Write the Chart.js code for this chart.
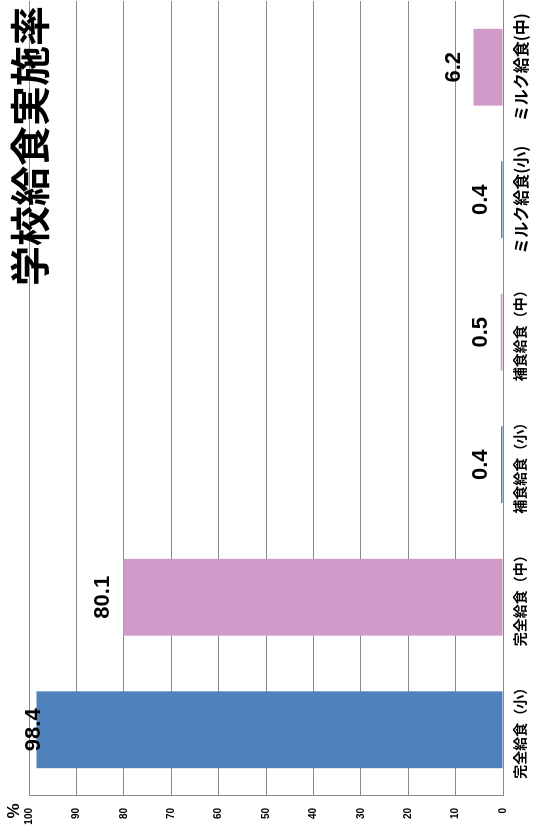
<!DOCTYPE html>
<html>
<head>
<meta charset="utf-8">
<script src="https://cdn.jsdelivr.net/npm/chart.js@4.4.1/dist/chart.umd.min.js"></script>
<style>
  html, body { margin: 0; padding: 0; background: #ffffff; overflow: hidden; }
  #wrap {
    position: absolute;
    left: 0;
    top: 0;
    width: 832px;
    height: 536px;
    transform-origin: 0 0;
    transform: translate(0, 832px) rotate(-90deg);
  }
</style>
</head>
<body>
<div id="wrap"><canvas id="chart" width="832" height="536"></canvas></div>
<script>
const categories = ['完全給食（小）', '完全給食（中）', '補食給食（小）', '補食給食（中）', 'ミルク給食(小)', 'ミルク給食(中)'];
const rates = [98.4, 80.1, 0.4, 0.5, 0.4, 6.2];
const yTicks = [0, 10, 20, 30, 40, 50, 60, 70, 80, 90, 100];
const chartTitle = '学校給食実施率';
const unitLabel = '%';

const BLUE = '#4f81bd';
const PINK = '#d09bc9';
const GRID = '#8a8a8a';
const JP = '"Noto Sans CJK JP", "Noto Sans", sans-serif';
const NUM = '"Liberation Sans", Arial, sans-serif';

// value labels above each bar, kept inside the plot like Excel does
const valueLabels = {
  id: 'valueLabels',
  afterDatasetsDraw(chart) {
    const ctx = chart.ctx;
    const top = chart.chartArea.top;
    ctx.save();
    ctx.font = 'bold 22px ' + NUM;
    ctx.fillStyle = '#000000';
    ctx.textAlign = 'center';
    ctx.textBaseline = 'middle';
    chart.getDatasetMeta(0).data.forEach((bar, i) => {
      const y = Math.max(bar.y - 20, top + 5);
      ctx.fillText(rates[i].toFixed(1), bar.x, y);
    });
    ctx.restore();
  }
};

// title and unit sit on top of the chart, not in their own boxes
const overlayText = {
  id: 'overlayText',
  afterDraw(chart) {
    const ctx = chart.ctx;
    ctx.save();
    ctx.fillStyle = '#000000';
    ctx.textBaseline = 'middle';
    ctx.font = 'bold 40px ' + JP;
    ctx.textAlign = 'right';
    ctx.fillText(chartTitle, chart.width - 6, 30);
    ctx.font = 'bold 17px ' + NUM;
    ctx.textAlign = 'center';
    ctx.fillText(unitLabel, 21, 14);
    ctx.restore();
  }
};

new Chart(document.getElementById('chart').getContext('2d'), {
  type: 'bar',
  data: {
    labels: categories,
    datasets: [{
      data: rates,
      backgroundColor: categories.map(c => c.includes('小') ? BLUE : PINK),
      borderWidth: 0,
      barPercentage: 0.58,
      categoryPercentage: 1.0
    }]
  },
  options: {
    responsive: false,
    animation: false,
    devicePixelRatio: 1,
    layout: { padding: { top: 29, right: 1, left: 0, bottom: 0 } },
    plugins: {
      legend: { display: false },
      title: { display: false },
      tooltip: { enabled: false }
    },
    scales: {
      x: {
        grid: { display: false, drawTicks: false },
        border: { display: true, color: GRID, width: 1 },
        afterFit: s => { s.height = 33; },
        ticks: {
          padding: 8,
          maxRotation: 0,
          autoSkip: false,
          color: '#000000',
          font: ctx => ({
            family: JP,
            weight: 'bold',
            size: String(categories[ctx.index]).startsWith('ミルク') ? 16 : 14
          })
        }
      },
      y: {
        min: 0,
        max: 100,
        afterFit: s => { s.width = 36; },
        afterBuildTicks: s => { s.ticks = yTicks.map(v => ({ value: v })); },
        grid: { color: GRID, lineWidth: 1, drawTicks: false },
        border: { display: true, color: GRID, width: 1 },
        ticks: {
          padding: 12,
          color: '#000000',
          font: { family: NUM, weight: 'bold', size: 10 }
        }
      }
    }
  },
  plugins: [valueLabels, overlayText]
});
</script>
</body>
</html>
